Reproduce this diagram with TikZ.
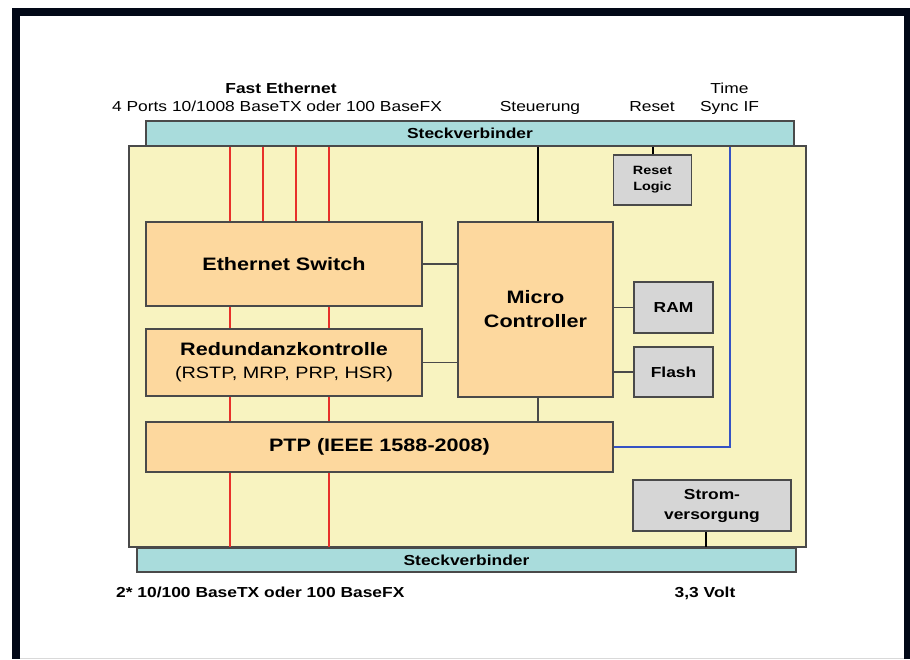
\documentclass[tikz,border=0pt]{standalone}
\usepackage{fontspec}
\setmainfont[FakeStretch=1.2]{Liberation Sans}
\definecolor{navy}{HTML}{020817}
\definecolor{boardc}{HTML}{F8F3C0}
\definecolor{connc}{HTML}{A9DCDC}
\definecolor{orangec}{HTML}{FDD89E}
\definecolor{grayc}{HTML}{D6D6D6}
\definecolor{edgec}{HTML}{4A4A4A}
\definecolor{redc}{HTML}{E8302A}
\definecolor{bluec}{HTML}{3552C4}
\begin{document}
\begin{tikzpicture}[x=1pt,y=-1pt,
  boxbase/.style={draw=edgec, line width=1.5pt, inner sep=0pt, align=center},
  boardbox/.style={boxbase, fill=boardc},
  connbox/.style={boxbase, fill=connc, font=\fontsize{14.5}{18}\selectfont\bfseries},
  orbox/.style={boxbase, fill=orangec, font=\fontsize{18}{24}\selectfont\bfseries},
  grbox/.style={boxbase, fill=grayc, font=\fontsize{14.5}{20}\selectfont\bfseries},
  smalllbl/.style={inner sep=0pt, anchor=base, font=\fontsize{14.5}{18}\selectfont},
  boldlbl/.style={smalllbl, font=\fontsize{14.5}{18}\selectfont\bfseries},
  redline/.style={draw=redc, line width=1.8pt},
  blkline/.style={draw=edgec, line width=1.4pt},
  blueline/.style={draw=bluec, line width=2pt}
]
\useasboundingbox (0,0) rectangle (910,659);
% frame
\fill[white] (0,0) rectangle (910,659);
\fill[navy] (12,8) rectangle (910,659);
\fill[white] (20,16) rectangle (904,659);
\draw[gray!30, line width=1pt] (20,658) -- (904,658);

% board and connectors
\node[boardbox, minimum width=677pt, minimum height=401pt] (board) at (467.5,346.5) {};
\node[connbox, minimum width=648pt, minimum height=25pt] (topc) at (470,133.5) {Steckverbinder};
\node[connbox, minimum width=659pt, minimum height=24pt] (botc) at (466.5,560) {Steckverbinder};

% blocks
\node[orbox, minimum width=276pt, minimum height=84pt] (es) at (284,264) {Ethernet Switch};
\node[orbox, minimum width=276pt, minimum height=67pt] (rk) at (284,362.5)
  {Redundanzkontrolle\\[-1pt]{\fontsize{16.5}{20}\selectfont\mdseries (RSTP, MRP, PRP, HSR)}};
\node[orbox, minimum width=467pt, minimum height=50pt] (ptp) at (379.5,447) {PTP (IEEE 1588-2008)};
\node[orbox, minimum width=155pt, minimum height=175pt] (mc) at (535.5,309.5) {Micro\\Controller};
\node[grbox, minimum width=79pt, minimum height=51pt] (ram) at (673.5,307.5) {RAM};
\node[grbox, minimum width=79pt, minimum height=50pt] (flash) at (673.5,372) {Flash};
\node[grbox, minimum width=78pt, minimum height=50pt, font=\fontsize{12}{16}\selectfont\bfseries] (reset) at (652.5,180) {Reset\\Logic};
\node[grbox, minimum width=158pt, minimum height=51pt] (strom) at (712,505.5) {Strom-\\versorgung};

% helper x positions
\coordinate (r1) at (230,0);
\coordinate (r2) at (263,0);
\coordinate (r3) at (296,0);
\coordinate (r4) at (329,0);
\coordinate (st) at (538,0);
\coordinate (pw) at (706,0);
\coordinate (ts) at (730,0);

% red lines
\foreach \r in {r1,r2,r3,r4} \draw[redline] (\r |- topc.south) -- (\r |- es.north);
\foreach \r in {r1,r4} {
  \draw[redline] (\r |- es.south) -- (\r |- rk.north);
  \draw[redline] (\r |- rk.south) -- (\r |- ptp.north);
  \draw[redline] (\r |- ptp.south) -- (\r |- botc.north);
}

% black lines
\draw[draw=black, line width=2.2pt] (st |- topc.south) -- (st |- mc.north);
\draw[blkline] (st |- mc.south) -- (st |- ptp.north);
\draw[blkline] (es.east) -- (es.east -| mc.west);
\draw[blkline] (rk.east) -- (rk.east -| mc.west);
\draw[blkline] (ram.west) -- (ram.west -| mc.east);
\draw[blkline] (flash.west) -- (flash.west -| mc.east);
\draw[draw=black, line width=2pt] (reset.north) -- (reset.north |- topc.south);
\draw[draw=black, line width=2pt] (pw |- strom.south) -- (pw |- botc.north);

% blue line
\draw[blueline] (ts |- topc.south) -- (ts |- ptp.east) -- (ptp.east);

% labels
\node[boldlbl] (lfe) at (281,93) {Fast Ethernet};
\node[smalllbl] (lports) at (277,111) {4 Ports 10/1008 BaseTX oder 100 BaseFX};
\node[smalllbl] (lsteu) at (540,111) {Steuerung};
\node[smalllbl] (lreset) at (652,111) {Reset};
\node[smalllbl] (ltime) at (729.5,93) {Time};
\node[smalllbl] (lsync) at (729.5,111) {Sync IF};
\node[boldlbl, anchor=base west] (lbot) at (116,597) {2* 10/100 BaseTX oder 100 BaseFX};
\node[boldlbl] (lvolt) at (705,597) {3,3 Volt};
\end{tikzpicture}
\end{document}
